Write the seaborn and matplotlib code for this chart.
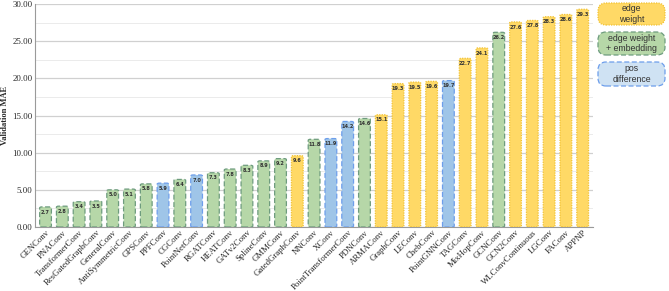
import numpy as np
import pandas as pd
import seaborn as sns
import matplotlib.pyplot as plt
from matplotlib.patches import FancyBboxPatch

# dados
modelos = ['GENConv', 'PNAConv', 'TransformerConv', 'ResGatedGraphConv', 'GeneralConv',
           'AntiSymmetricConv', 'GPSConv', 'PPFConv', 'CGConv', 'PointNetConv', 'RGATConv',
           'HEATConv', 'GATv2Conv', 'SplineConv', 'GMMConv', 'GatedGraphConv', 'NNConv',
           'XConv', 'PointTransformerConv', 'PDNConv', 'ARMAConv', 'GraphConv', 'LEConv',
           'ChebConv', 'PointGNNConv', 'TAGConv', 'MixHopConv', 'GCNConv', 'GCN2Conv',
           'WLConvContinuous', 'LGConv', 'FAConv', 'APPNP']
mae = [2.7, 2.8, 3.4, 3.5, 5.0, 5.1, 5.8, 5.9, 6.4, 7.0, 7.3, 7.8, 8.3, 8.9, 9.2, 9.6,
       11.8, 11.9, 14.2, 14.6, 15.1, 19.3, 19.5, 19.6, 19.7, 22.7, 24.1, 26.2, 27.6,
       27.8, 28.3, 28.6, 29.3]
# w = edge weight, e = edge weight + embedding, p = pos difference
tipo = ['e', 'e', 'e', 'e', 'e', 'e', 'e', 'p', 'e', 'p', 'e', 'e', 'e', 'e', 'e', 'w',
        'e', 'p', 'p', 'e', 'w', 'w', 'w', 'w', 'p', 'w', 'w', 'e', 'w', 'w', 'w', 'w', 'w']
legenda = {'w': 'edge\nweight', 'e': 'edge weight\n+ embedding', 'p': 'pos\ndifference'}

cor_fundo = {'w': '#FFD966', 'e': '#B6D7A8', 'p': '#9FC5E8'}
cor_legenda = {'w': '#FFD966', 'e': '#B6D7A8', 'p': '#CFE2F3'}
cor_borda = {'w': '#F1C232', 'e': '#6E9C7E', 'p': '#6D9EEB'}
estilo_borda = {'w': (0, (1, 1)), 'e': (0, (4, 2)), 'p': (0, (4, 2))}

df = pd.DataFrame({'modelo': modelos, 'mae': mae, 'tipo': tipo})

sns.set_style('white')
plt.rcParams['font.family'] = ['Liberation Serif', 'DejaVu Serif']

fig = plt.figure(figsize=(6.69, 2.91), dpi=100)
ax = fig.add_axes([0.053, 0.22, 0.833, 0.766])

sns.barplot(data=df, x='modelo', y='mae', hue='tipo', palette=cor_fundo, dodge=False,
            width=0.7, legend=False, ax=ax)

# troca os retangulos por retangulos arredondados
for bar in list(ax.patches):
    h = bar.get_height()
    if h == 0 or np.isnan(h):
        bar.remove()
        continue
    x0 = bar.get_x()
    w = bar.get_width()
    xc = x0 + w / 2
    i = int(round(xc))
    t = tipo[i]
    nova = FancyBboxPatch((x0, 0), w, h,
                          boxstyle='round,pad=0,rounding_size=0.12',
                          mutation_aspect=1.2,
                          facecolor=cor_fundo[t], edgecolor=cor_borda[t],
                          linewidth=0.9, linestyle=estilo_borda[t], zorder=3)
    bar.remove()
    ax.add_patch(nova)
    ax.text(xc, h - 0.35, f'{mae[i]:.1f}', ha='center', va='top', fontsize=3.6,
            fontweight='bold', color='#333333', family='DejaVu Sans', zorder=4)

ax.set_ylim(0, 30)
ax.set_xlim(-0.6, len(modelos) - 0.4)
ax.set_yticks(np.arange(0, 30.1, 5))
ax.set_yticks(np.arange(0, 30.1, 2.5), minor=True)
ax.set_yticklabels([f'{v:.2f}' for v in np.arange(0, 30.1, 5)], fontsize=6.3)
ax.grid(axis='y', which='major', color='#D0D0D0', linewidth=0.9, zorder=0)
ax.grid(axis='y', which='minor', color='#EBEBEB', linewidth=0.7, zorder=0)
ax.set_axisbelow(True)
ax.tick_params(axis='y', which='both', length=0, pad=2)
ax.tick_params(axis='x', length=0, pad=1)
ax.set_xticks(range(len(modelos)))
ax.set_xticklabels(modelos, rotation=45, ha='right', rotation_mode='anchor', fontsize=6.3)
ax.set_xlabel('')
ax.set_ylabel('Validation MAE', fontsize=6, fontweight='bold')
ax.yaxis.set_label_coords(-0.047, 0.5)
for s in ['top', 'right']:
    ax.spines[s].set_visible(False)
ax.spines['left'].set_color('#9A9A9A')
ax.spines['bottom'].set_color('#9A9A9A')

# legenda em caixas arredondadas (coordenadas da figura)
caixas = {'w': (3, 25), 'e': (32, 55), 'p': (62, 86)}
W, H = 669, 291
for k, (y0, y1) in caixas.items():
    x0, x1 = 598, 665
    caixa = FancyBboxPatch((x0 / W, 1 - y1 / H), (x1 - x0) / W, (y1 - y0) / H,
                           boxstyle='round,pad=0,rounding_size=0.012',
                           transform=fig.transFigure, facecolor=cor_legenda[k],
                           edgecolor=cor_borda[k], linestyle=estilo_borda[k],
                           linewidth=0.9, mutation_aspect=2.3)
    fig.add_artist(caixa)
    fig.text((x0 + x1) / 2 / W, 1 - (y0 + y1) / 2 / H, legenda[k], ha='center',
             va='center', fontsize=6.3, family='Liberation Sans', color='#333333',
             linespacing=1.2)

fig.savefig('out.png', dpi=100)
